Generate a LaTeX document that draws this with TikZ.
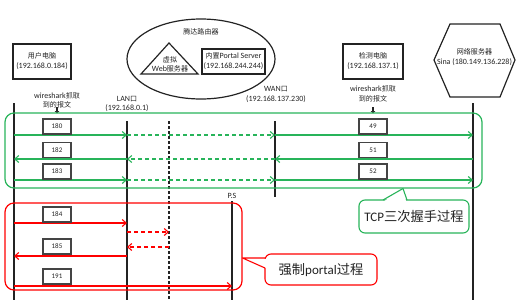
\documentclass[tikz,border=0pt]{standalone}
\usepackage{fontspec}
\setmainfont{Carlito}
\newfontfamily\cjk[Scale=0.88]{Noto Sans CJK SC}
\newfontfamily\cjkb[Scale=1.02]{Noto Sans CJK SC}
\usetikzlibrary{arrows.meta,shapes.geometric}
\definecolor{gr}{RGB}{40,180,90}
\definecolor{rd}{RGB}{255,0,0}
\definecolor{ink}{RGB}{35,35,35}
\begin{document}
\begin{tikzpicture}[x=1pt,y=-1pt,
 lbl/.style={font=\fontsize{8}{9.5}\selectfont, text=ink, inner sep=0pt, align=center},
 box/.style={draw=ink, line width=1.2pt, fill=white, inner sep=0pt, align=center, font=\fontsize{8}{10}\selectfont, text=ink},
 numbox/.style={draw=ink!85, line width=1.3pt, fill=white, minimum width=28pt, minimum height=15pt, inner sep=0pt, font=\fontsize{7}{8}\selectfont, text=ink},
 msg/.style={line width=1.1pt, -{Straight Barb[length=4pt,width=7pt]}},
 dmsg/.style={msg, dash pattern=on 4pt off 3pt},
 life/.style={line width=1.5pt, draw=ink},
 grp/.style={rounded corners=9pt, line width=1.2pt, inner sep=0pt},
 callout/.style={fill=white, rounded corners=6pt, line width=1.1pt, inner sep=0pt, font=\fontsize{13}{15}\selectfont, text=ink},
 tick/.style={line width=2pt, draw=ink, -{Triangle[length=2.5pt,width=4.5pt]}}
]
\useasboundingbox (0,0) rectangle (517,300);

% ---- top objects ----
\node[box, minimum width=58pt, minimum height=35pt] (user) at (42,61.5) {{\cjk 用户电脑}\\(192.168.0.184)};
\node[draw=ink, ellipse, line width=1.2pt, minimum width=148pt, minimum height=80pt, inner sep=0pt] (router) at (201,59) {};
\node[lbl] (routert) at (201,32) {\cjk 腾达路由器};
\draw[line width=1.2pt, draw=ink] (169,43) -- (141,74) -- (198,74) -- cycle;
\node[lbl] (web) at (170,64.5) {\cjk 虚拟\\Web{\cjk 服务器}};
\node[box, minimum width=63pt, minimum height=25pt] (portal) at (233.5,61.5) {{\cjk 内置}Portal Server\\(192.168.244.244)};
\node[box, minimum width=60pt, minimum height=35pt] (detect) at (373,61.5) {{\cjk 检测电脑}\\(192.168.137.1)};
\draw[line width=1.2pt, draw=ink] (434,60) -- (450,24) -- (500,24) -- (515,60) -- (500,97) -- (450,97) -- cycle;
\node[lbl] (sina) at (474.5,57) {\cjk 网络服务器\\Sina (180.149.136.228)};

\node[lbl] (wsu) at (57,100.5) {wireshark{\cjk 抓取}\\{\cjk 到的报文}};
\node[lbl] (wsd) at (373,94) {wireshark{\cjk 抓取}\\{\cjk 到的报文}};
\node[lbl] (lan) at (127,104) {LAN{\cjk 口}\\(192.168.0.1)};
\node[lbl] (wan) at (276,94.5) {WAN{\cjk 口}\\(192.168.137.230)};
\node[lbl] (ps) at (232,196) {P.S};

\coordinate (ua1) at (57,107); \coordinate (ua2) at (57,113.5);
\coordinate (da1) at (373,107); \coordinate (da2) at (373,113.5);
\draw[tick] (ua1) -- (ua2);
\draw[tick] (da1) -- (da2);

% ---- lifelines ----
\coordinate (uT) at (14,103);  \coordinate (uB) at (14,300);
\coordinate (lT) at (127,121); \coordinate (lB) at (127,300);
\coordinate (dT) at (169,121); \coordinate (dB) at (169,300);
\coordinate (wT) at (275,121); \coordinate (wB) at (275,197);
\coordinate (sT) at (473,103); \coordinate (sB) at (473,300);
\coordinate (pT) at (232,201); \coordinate (pB) at (232,300);
\draw[life, line width=2pt] (uT) -- (uB);
\draw[life] (lT) -- (lB);
\draw[life, dash pattern=on 3pt off 2pt] (dT) -- (dB);
\draw[life, line width=1.2pt] (wT) -- (wB);
\draw[life] (sT) -- (sB);
\draw[life] (pT) -- (pB);

% ---- groups ----
\node[grp, draw=gr, minimum width=477pt, minimum height=75pt] (tcpgrp) at (243.5,150.5) {};
\node[grp, draw=rd, minimum width=237pt, minimum height=87pt] (portalgrp) at (123.5,246.5) {};

% ---- rows ----
\coordinate (r180) at (0,135);
\coordinate (r182) at (0,159);
\coordinate (r183) at (0,180);
\coordinate (r184) at (0,223);
\coordinate (rA) at (0,232);
\coordinate (rB) at (0,247);
\coordinate (r185) at (0,256);
\coordinate (r191) at (0,286);

% ---- green messages ----
\draw[msg,gr] (uT |- r180) -- (lT |- r180);
\draw[dmsg,gr] (lT |- r180) -- (wT |- r180);
\draw[msg,gr] (wT |- r180) -- (sT |- r180);
\draw[msg,gr] (sT |- r182) -- (wT |- r182);
\draw[dmsg,gr] (wT |- r182) -- (lT |- r182);
\draw[msg,gr] (lT |- r182) -- (uT |- r182);
\draw[msg,gr] (uT |- r183) -- (lT |- r183);
\draw[dmsg,gr] (lT |- r183) -- (wT |- r183);
\draw[msg,gr] (wT |- r183) -- (sT |- r183);

% ---- red messages ----
\draw[msg,rd] (uT |- r184) -- (lT |- r184);
\draw[dmsg,rd] (lT |- rA) -- (dT |- rA);
\draw[dmsg,rd] (dT |- rB) -- (lT |- rB);
\draw[msg,rd] (lT |- r185) -- (uT |- r185);
\draw[msg,rd] (uT |- r191) -- (pT |- r191);

% ---- number labels ----
\node[numbox] (n180) at (57,126.5) {180};
\node[numbox] (n182) at (57,150) {182};
\node[numbox] (n183) at (57,171.5) {183};
\node[numbox] (n49) at (373,126.5) {49};
\node[numbox] (n51) at (373,150) {51};
\node[numbox] (n52) at (373,171.5) {52};
\node[numbox] (n184) at (57,214.5) {184};
\node[numbox] (n185) at (57,246.5) {185};
\node[numbox] (n191) at (57,276.5) {191};

% ---- callouts ----
\node[callout, draw=gr, minimum width=110pt, minimum height=33pt] (tcp) at (414,216.5) {TCP{\cjkb 三次握手过程}};
\coordinate (tcptip) at (403,188.5);
\fill[white] (384.5,201) -- (tcptip) -- (406,201) -- cycle;
\draw[gr, line width=1.1pt, line join=round] (383,200) -- (tcptip) -- (407,200);

\node[callout, draw=rd, minimum width=112pt, minimum height=31pt] (pc) at (321,269.5) {{\cjkb 强制}portal{\cjkb 过程}};
\coordinate (pctip) at (242.5,258);
\fill[white] (266,259) -- (pctip) -- (266,268) -- cycle;
\draw[rd, line width=1.1pt, line join=round] (265,258) -- (pctip) -- (265,268);
\end{tikzpicture}
\end{document}
